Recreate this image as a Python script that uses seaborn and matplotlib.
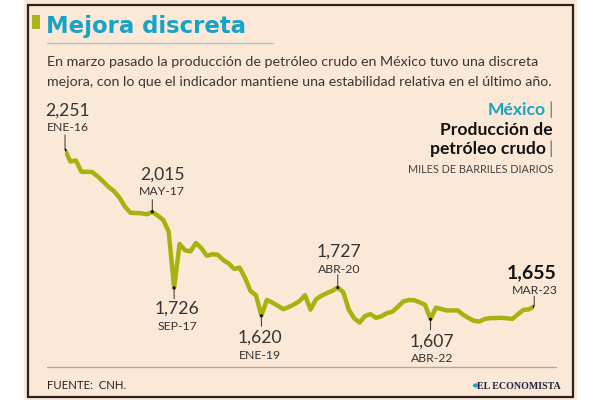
import matplotlib
matplotlib.use("Agg")
import matplotlib.pyplot as plt
from matplotlib.patches import Rectangle, Circle
from matplotlib.lines import Line2D
import seaborn as sns
import pandas as pd

# ---------------- data ----------------
production = [2251, 2207, 2211, 2168, 2168, 2167, 2150, 2131, 2110, 2094,
              2069, 2035, 2012, 2011, 2010, 2006, 2015, 2001, 1985, 1941,
              1726, 1893, 1869, 1865, 1897, 1877, 1848, 1854, 1852, 1832,
              1819, 1798, 1803, 1764, 1714, 1698, 1620, 1680, 1670, 1658,
              1645, 1653, 1663, 1676, 1698, 1643, 1682, 1696, 1706, 1715,
              1727, 1710, 1644, 1610, 1594, 1619, 1626, 1612, 1618, 1630,
              1635, 1654, 1674, 1680, 1679, 1671, 1661, 1607, 1651, 1645,
              1640, 1640, 1640, 1623, 1611, 1600, 1598, 1608, 1611, 1611,
              1612, 1610, 1608, 1625, 1642, 1644, 1655]
ann_index = [0, 16, 20, 36, 50, 67, 86]
ann_dates = ["ENE-16", "MAY-17", "SEP-17", "ENE-19", "ABR-20", "ABR-22", "MAR-23"]

title = "Mejora discreta"
subtitle = ["En marzo pasado la producción de petróleo crudo en México tuvo una discreta",
            "mejora, con lo que el indicador mantiene una estabilidad relativa en el último año."]
source = "FUENTE:  CNH."

# ---------------- style ----------------
sns.set_theme(style="white")
plt.rcParams['font.family'] = ['Lato', 'DejaVu Sans']

PEACH = "#FCE8D7"
LINE = "#A6B30F"
CYAN = "#17A3C8"
DARK = "#3A3636"
BORDER = "#2B2320"

W, H = 600, 400
fig = plt.figure(figsize=(6, 4), dpi=100)
fig.patch.set_facecolor("white")

def fx(x):
    return x / W

def fy(y):
    return 1 - y / H

# background panel and border
fig.patches.append(Rectangle((fx(24), 0), fx(553), 1, transform=fig.transFigure,
                             facecolor=PEACH, edgecolor="none", zorder=-5))
fig.patches.append(Rectangle((fx(28), fy(396.5)), fx(544.5), (391.5) / H,
                             transform=fig.transFigure, facecolor="none",
                             edgecolor=BORDER, lw=1.6, zorder=1))
# title accent bar
fig.patches.append(Rectangle((fx(32), fy(29)), fx(8), 14 / H, transform=fig.transFigure,
                             facecolor="#A9B51E", edgecolor="none", zorder=2))
fig.text(fx(46), fy(33.5), title, fontsize=16.4, fontweight="bold", color=CYAN,
         ha="left", va="baseline", family=["DejaVu Sans"])
fig.lines.append(Line2D([fx(47), fx(273)], [fy(42.7), fy(42.7)], transform=fig.transFigure,
                        color="#A8C6CB", lw=1.0))
fig.text(fx(47), fy(66.5), subtitle[0], fontsize=10.3, color=DARK, ha="left", va="baseline")
fig.text(fx(47), fy(85.5), subtitle[1], fontsize=10.2, color=DARK, ha="left", va="baseline")

# right header
HB = 12.6
fig.text(fx(553), fy(115), "|", fontsize=HB, color="#777777", ha="right", va="baseline")
fig.text(fx(546), fy(115), "México", fontsize=HB, fontweight="bold", color=CYAN,
         ha="right", va="baseline")
fig.text(fx(553), fy(135), "Producción de", fontsize=HB, fontweight="bold", color="#111111",
         ha="right", va="baseline")
fig.text(fx(553), fy(154), "|", fontsize=HB, color="#777777", ha="right", va="baseline")
fig.text(fx(546), fy(154), "petróleo crudo", fontsize=HB, fontweight="bold", color="#111111",
         ha="right", va="baseline")
fig.text(fx(553), fy(172.7), "MILES DE BARRILES DIARIOS", fontsize=7.8, color="#444444",
         ha="right", va="baseline")

# footer
fig.lines.append(Line2D([fx(47), fx(556)], [fy(366.7), fy(366.7)], transform=fig.transFigure,
                        color="#B3A69A", lw=1.0))
fig.text(fx(47), fy(389), source, fontsize=8.2, color="#222222", ha="left", va="baseline")
fig.patches.append(Circle((fx(476), fy(385.5)), 3.2 / W, transform=fig.transFigure,
                          facecolor="#2B9ED8", edgecolor="none"))
fig.text(fx(561), fy(389), "EL ECONOMISTA", fontsize=7.2, fontweight="bold", color="#1D2540",
         ha="right", va="baseline", family=["Liberation Serif"])

# ---------------- chart ----------------
ax_top, ax_bot = 140, 330
ax = fig.add_axes([fx(65), fy(ax_bot), 469.2 / W, (ax_bot - ax_top) / H])
ax.set_zorder(5)
ax.patch.set_visible(False)
df = pd.DataFrame({"i": range(len(production)), "v": production})
sns.lineplot(data=df, x="i", y="v", ax=ax, color=LINE, lw=3.2, solid_joinstyle="round",
             solid_capstyle="butt")
ax.set_xlim(0, len(production) - 1)
ax.set_ylim(2251 - 3.808 * (ax_bot - 150), 2251 + 3.808 * (150 - ax_top))
ax.axis("off")

ann_df = df.iloc[ann_index]
sns.scatterplot(data=ann_df, x="i", y="v", ax=ax, color="#111111", s=5, zorder=5,
                edgecolor="none", legend=False)

# layout for labels: (point px, value-baseline px, date-baseline px, tick-end px, text x offset px)
layout = [
    (150.0, 115.7, 130.7, 135.0, 2.5),
    (213.3, 180.7, 196.7, 201.0, 10.0),
    (289.0, 315.0, 331.0, 300.0, 3.0),
    (316.0, 343.3, 359.3, 326.7, -1.0),
    (283.3, 252.7, 268.3, 270.5, 1.0),
    (316.0, 343.3, 359.3, 326.7, 1.5),
    (307.0, 279.0, 294.0, 296.7, None),
]
k = 0.72  # px -> points
for idx, date, (py, vb, db, te, dx) in zip(ann_index, ann_dates, layout):
    val = production[idx]
    xy = (idx, val)
    ax.annotate("", xy=xy, xytext=(0, (py - te) * k), textcoords="offset points",
                arrowprops=dict(arrowstyle="-", lw=0.7, color="#333333",
                                shrinkA=0, shrinkB=0), annotation_clip=False)
    txt = f"{val:,}"
    if dx is None:
        ax.annotate(txt, xy=xy, xytext=((557 - 534.2) * k, (py - vb) * k),
                    textcoords="offset points", ha="right", va="baseline",
                    fontsize=14, fontweight="bold", color="#111111", annotation_clip=False)
        ax.annotate(date, xy=xy, xytext=((558 - 534.2) * k, (py - db) * k),
                    textcoords="offset points", ha="right", va="baseline",
                    fontsize=8.8, color="#333333", annotation_clip=False)
    else:
        ax.annotate(txt, xy=xy, xytext=(dx * k, (py - vb) * k),
                    textcoords="offset points", ha="center", va="baseline",
                    fontsize=12.6, color="#333333", annotation_clip=False)
        ax.annotate(date, xy=xy, xytext=(dx * k, (py - db) * k),
                    textcoords="offset points", ha="center", va="baseline",
                    fontsize=8.8, color="#333333", annotation_clip=False)

fig.savefig("out.png", dpi=100, facecolor=fig.get_facecolor())
